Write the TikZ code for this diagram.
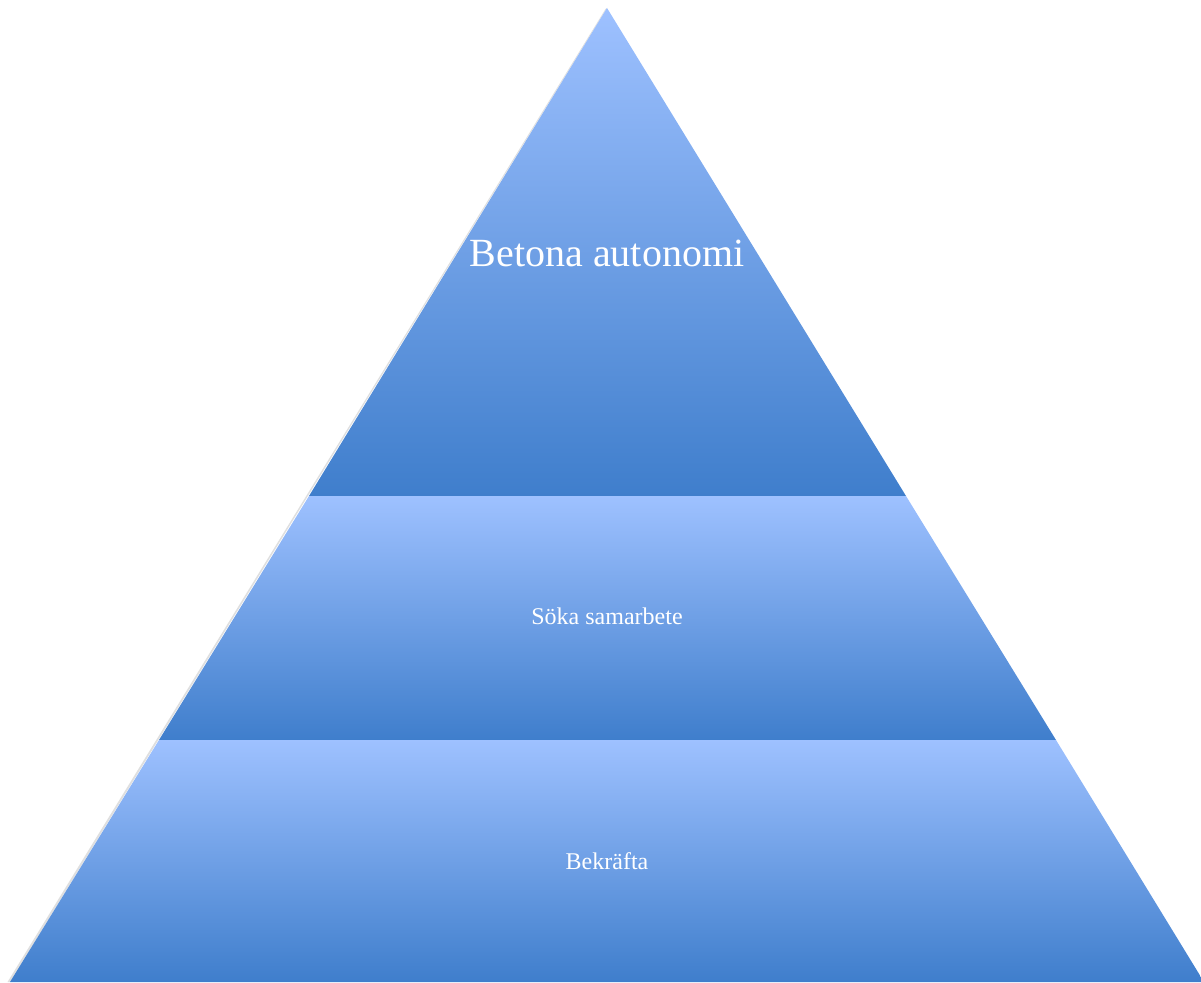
\documentclass[tikz,border=0pt]{standalone}
\usepackage{fontspec}
\setmainfont{Liberation Serif}
\usetikzlibrary{calc}
\definecolor{pyrtop}{HTML}{9EC1FF}
\definecolor{pyrbottom}{HTML}{3F7ECC}
\definecolor{pyrshadow}{HTML}{B8B8B8}

\begin{document}
\begin{tikzpicture}[x=1pt, y=-1pt,
    band/.style={top color=pyrtop, bottom color=pyrbottom},
    bandshadow/.style={fill=pyrshadow, opacity=0.45},
    bandlabel/.style={text=white, inner sep=0pt, font=\fontsize{24}{28}\selectfont}]
  \useasboundingbox (0,0) rectangle (1201,982);
  % corners of the pyramid
  \coordinate (apex) at (607,8);
  \coordinate (tl) at (309,496);
  \coordinate (tr) at (906,496);
  \coordinate (ml) at (159,740);
  \coordinate (mr) at (1056,740);
  \coordinate (bl) at (10,982);
  \coordinate (br) at (1204,982);
  % soft shadow on the left side
  \fill[bandshadow] ($(apex)+(-1.5,1)$) -- ($(bl)+(-2.5,0)$) -- (bl) -- (apex) -- cycle;
  % bands
  \shade[band] (apex) -- (tr) -- (tl) -- cycle;
  \shade[band] (tl) -- (tr) -- (mr) -- (ml) -- cycle;
  \shade[band] (ml) -- (mr) -- (br) -- (bl) -- cycle;
  % labels
  \node[bandlabel, font=\fontsize{40}{48}\selectfont] (autonomi) at (607,253) {Betona autonomi};
  \node[bandlabel] (samarbete) at (607,616) {Söka samarbete};
  \node[bandlabel] (bekrafta) at (607,861) {Bekräfta};
\end{tikzpicture}
\end{document}
